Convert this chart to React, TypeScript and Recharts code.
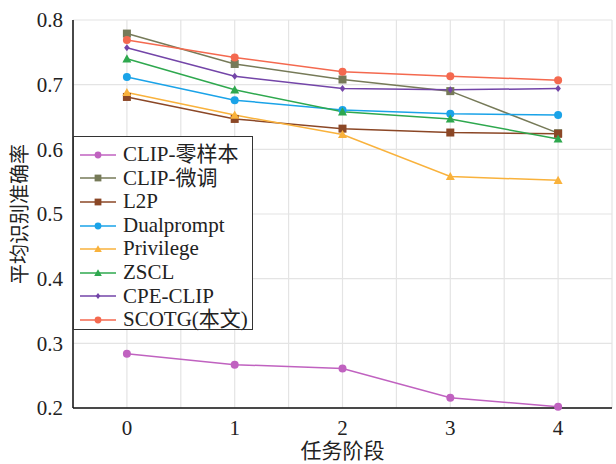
import React from 'react';
import { LineChart, Line, XAxis, YAxis, CartesianGrid } from 'recharts';

const stages = [0, 1, 2, 3, 4];
const clipZero = [0.284, 0.267, 0.261, 0.216, 0.202];
const clipFine = [0.779, 0.732, 0.708, 0.690, 0.625];
const l2p = [0.681, 0.647, 0.632, 0.626, 0.624];
const dualprompt = [0.712, 0.676, 0.661, 0.655, 0.653];
const privilege = [0.688, 0.653, 0.623, 0.558, 0.552];
const zscl = [0.740, 0.692, 0.658, 0.647, 0.616];
const cpeClip = [0.757, 0.713, 0.694, 0.692, 0.694];
const scotg = [0.769, 0.742, 0.720, 0.713, 0.707];

const yTicks = [0.2, 0.3, 0.4, 0.5, 0.6, 0.7, 0.8];
const xTicks = [-0.5, 0, 0.5, 1, 1.5, 2, 2.5, 3, 3.5, 4, 4.5];

type Shape = 'circle' | 'square' | 'triangle' | 'diamond';
const seriesList: { key: string; name: string; color: string; shape: Shape; values: number[] }[] = [
  { key: 'zero', name: 'CLIP-零样本', color: '#c062c0', shape: 'circle', values: clipZero },
  { key: 'fine', name: 'CLIP-微调', color: '#767a58', shape: 'square', values: clipFine },
  { key: 'l2p', name: 'L2P', color: '#8b4726', shape: 'square', values: l2p },
  { key: 'dual', name: 'Dualprompt', color: '#1aa3e8', shape: 'circle', values: dualprompt },
  { key: 'priv', name: 'Privilege', color: '#f9b23c', shape: 'triangle', values: privilege },
  { key: 'zscl', name: 'ZSCL', color: '#2ea84e', shape: 'triangle', values: zscl },
  { key: 'cpe', name: 'CPE-CLIP', color: '#7345a8', shape: 'diamond', values: cpeClip },
  { key: 'scotg', name: 'SCOTG(本文)', color: '#f4694f', shape: 'circle', values: scotg },
];

const data = stages.map((s, i) => {
  const row: Record<string, number> = { x: s };
  seriesList.forEach((se) => { row[se.key] = se.values[i]; });
  return row;
});

const FONT = '"Liberation Serif", "Noto Sans CJK SC", serif';

function Marker({ cx, cy, shape, color, scale = 1 }: { cx: number; cy: number; shape: Shape; color: string; scale?: number }) {
  if (shape === 'circle') return <circle cx={cx} cy={cy} r={4 * scale} fill={color} />;
  if (shape === 'square') { const s = 4 * scale; return <rect x={cx - s} y={cy - s} width={2 * s} height={2 * s} fill={color} />; }
  if (shape === 'triangle') { const s = 4.5 * scale; return <polygon points={`${cx},${cy - s} ${cx + s},${cy + s * 0.8} ${cx - s},${cy + s * 0.8}`} fill={color} />; }
  const s = 3.5 * scale;
  return <polygon points={`${cx},${cy - s} ${cx + s * 0.8},${cy} ${cx},${cy + s} ${cx - s * 0.8},${cy}`} fill={color} />;
}

function LegendBox() {
  return (
    <div style={{ position: 'absolute', left: 73, top: 136, border: '1.5px solid #333', background: '#fff', width: 180, height: 194, boxSizing: 'border-box', padding: '6px 0 0 6px', fontFamily: FONT, fontSize: 21, color: '#222' }}>
      {seriesList.map((se) => (
        <div key={se.key} style={{ display: 'flex', alignItems: 'center', height: 23.6, lineHeight: '23.6px' }}>
          <svg width={36} height={12} style={{ marginRight: 7 }}>
            <line x1={0} y1={6} x2={36} y2={6} stroke={se.color} strokeWidth={1.5} />
            <Marker cx={18} cy={6} shape={se.shape} color={se.color} scale={0.85} />
          </svg>
          <span style={{ whiteSpace: 'nowrap' }}>{se.name}</span>
        </div>
      ))}
    </div>
  );
}

export default function App() {
  return (
    <div style={{ position: 'absolute', left: 0, top: 0, width: 616, height: 464, background: '#fff' }}>
      <LineChart width={616} height={464} data={data} margin={{ top: 20, right: 4, bottom: 0, left: 0 }}>
        <CartesianGrid stroke="#e4e4e4" strokeWidth={1.2} />
        <XAxis
          dataKey="x"
          type="number"
          domain={[-0.5, 4.5]}
          ticks={xTicks}
          interval={0}
          tickFormatter={(v: number) => (Number.isInteger(v) ? String(v) : '')}
          tickLine={false}
          axisLine={{ stroke: '#111', strokeWidth: 1.5 }}
          tick={{ fill: '#222', fontSize: 21, fontFamily: FONT }}
          tickMargin={6}
          height={56}
          label={{ value: '任务阶段', position: 'insideBottom', offset: 6, fill: '#222', fontSize: 21, fontFamily: FONT }}
        />
        <XAxis xAxisId="top" orientation="top" dataKey="x" type="number" domain={[-0.5, 4.5]} tick={false} tickLine={false} axisLine={{ stroke: '#111', strokeWidth: 1.5 }} height={0} />
        <YAxis
          type="number"
          domain={[0.2, 0.8]}
          ticks={yTicks}
          interval={0}
          tickFormatter={(v: number) => v.toFixed(1)}
          tickLine={false}
          axisLine={{ stroke: '#111', strokeWidth: 1.5 }}
          tick={{ fill: '#222', fontSize: 21, fontFamily: FONT }}
          tickMargin={4}
          width={73}
          label={{ value: '平均识别准确率', angle: -90, position: 'insideLeft', offset: 20, fill: '#222', fontSize: 20, fontFamily: FONT, style: { textAnchor: 'middle' } }}
        />
        <YAxis yAxisId="right" orientation="right" domain={[0.2, 0.8]} tick={false} tickLine={false} axisLine={{ stroke: '#111', strokeWidth: 1.5 }} width={0} />
        {seriesList.map((se) => (
          <Line
            key={se.key}
            dataKey={se.key}
            name={se.name}
            stroke={se.color}
            strokeWidth={1.5}
            isAnimationActive={false}
            dot={(p: any) => <Marker key={`${se.key}-${p.index}`} cx={p.cx} cy={p.cy} shape={se.shape} color={se.color} />}
            activeDot={false}
          />
        ))}
      </LineChart>
      <LegendBox />
    </div>
  );
}
